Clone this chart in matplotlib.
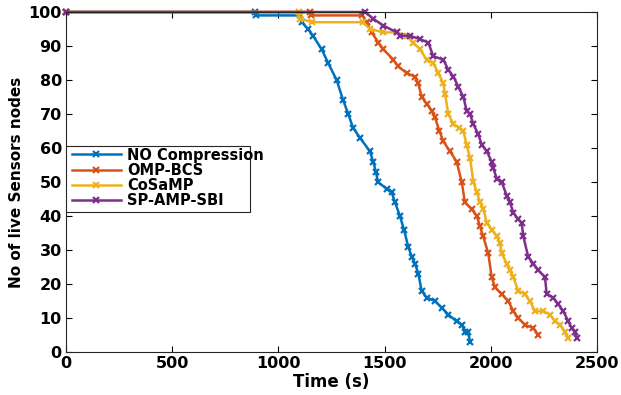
import matplotlib
matplotlib.use("Agg")
import matplotlib.pyplot as plt
from matplotlib.patches import Rectangle

# valeurs (temps en s, nombre de noeuds vivants)
t_noc = [0, 890, 895, 1102, 1110, 1139, 1163, 1204, 1234, 1274, 1305, 1329, 1351, 1384, 1431, 1446,
         1459, 1469, 1509, 1533, 1549, 1572, 1591, 1611, 1628, 1643, 1659, 1674, 1698, 1737, 1769,
         1800, 1839, 1864, 1878, 1893, 1902]
n_noc = [100, 100, 99, 99, 97, 95, 93, 89, 85, 80, 74, 70, 66, 63, 59, 56,
         53, 50, 48, 47, 44, 40, 36, 31, 28, 26, 23, 18, 16, 15, 13,
         11, 9, 8, 6, 6, 3]

t_omp = [0, 1150, 1155, 1395, 1415, 1439, 1471, 1494, 1541, 1564, 1604, 1643, 1658, 1675, 1698, 1722,
         1737, 1758, 1776, 1808, 1839, 1863, 1878, 1910, 1934, 1949, 1964, 1988, 2004, 2020, 2051,
         2082, 2106, 2129, 2161, 2200, 2224]
n_omp = [100, 100, 99, 99, 97, 94, 91, 89, 86, 84, 82, 81, 79, 75, 73, 71,
         69, 65, 62, 59, 56, 50, 44, 42, 40, 37, 34, 29, 22, 19, 17,
         15, 12, 10, 8, 7, 5]

t_cosamp = [0, 1095, 1100, 1160, 1398, 1431, 1494, 1556, 1604, 1635, 1667, 1698, 1729, 1753, 1776, 1784,
            1800, 1824, 1852, 1871, 1886, 1902, 1918, 1934, 1949, 1965, 1981, 2004, 2028, 2043, 2051,
            2075, 2090, 2106, 2129, 2161, 2184, 2208, 2247, 2279, 2302, 2326, 2349, 2365]
n_cosamp = [100, 100, 98, 97, 97, 95, 94, 94, 93, 91, 89, 86, 85, 82, 79, 76,
            70, 67, 66, 65, 61, 57, 50, 47, 44, 42, 38, 36, 34, 32, 29,
            26, 24, 22, 18, 17, 15, 12, 12, 11, 9, 8, 6, 4]

t_sp = [0, 1408, 1447, 1494, 1557, 1573, 1620, 1667, 1706, 1729, 1776, 1800, 1824, 1847, 1871, 1886,
        1902, 1918, 1941, 1957, 1981, 2004, 2012, 2028, 2051, 2075, 2090, 2106, 2129, 2145, 2153,
        2176, 2200, 2224, 2255, 2263, 2294, 2318, 2341, 2365, 2381, 2396, 2404]
n_sp = [100, 100, 98, 96, 94, 93, 93, 92, 91, 87, 86, 83, 81, 78, 75, 71,
        70, 67, 64, 61, 59, 56, 54, 51, 50, 46, 44, 41, 39, 38, 34,
        28, 26, 24, 22, 17, 16, 14, 12, 9, 7, 6, 4]

labels = ['NO Compression', 'OMP-BCS', 'CoSaMP', 'SP-AMP-SBI']
couleurs = ['#0072BD', '#D95319', '#EDB120', '#7E2F8E']

fig = plt.figure(figsize=(6.21, 3.95), dpi=100)
ax = fig.add_axes([0.1063, 0.1089, 0.8551, 0.8607])

series = [(t_noc, n_noc), (t_omp, n_omp), (t_cosamp, n_cosamp), (t_sp, n_sp)]
for (t, n), lab, c in zip(series, labels, couleurs):
    ax.plot(t, n, color=c, lw=1.8, marker='x', ms=5, mew=1.6, label=lab, clip_on=False)

ax.set_xlim(0, 2500)
ax.set_ylim(0, 100)
ax.set_xticks(range(0, 2501, 500))
ax.set_yticks(range(0, 101, 10))
ax.tick_params(direction='in', top=True, right=True, length=4, labelsize=11.5, pad=3)
for lab in ax.get_xticklabels() + ax.get_yticklabels():
    lab.set_fontweight('bold')
for s in ax.spines.values():
    s.set_color('#262626')
    s.set_linewidth(0.8)

ax.set_xlabel('Time (s)', fontsize=12, fontweight='bold', labelpad=1)
ax.set_ylabel('No of live Sensors nodes', fontsize=11, fontweight='bold', labelpad=3)

# cadre de la légende (le texte déborde comme sur l'original)
ax.add_patch(Rectangle((0.0, 0.412), 0.347, 0.194, transform=ax.transAxes,
                       facecolor='white', edgecolor='#262626', lw=0.8, zorder=4))
leg = ax.legend(loc='upper left', bbox_to_anchor=(0.005, 0.61), prop={'weight': 'bold', 'size': 10.5},
                frameon=False, borderpad=0.2, labelspacing=0.02, handlelength=3.4,
                handletextpad=0.4, borderaxespad=0)
leg.set_zorder(5)

fig.savefig('out.png', dpi=100)
